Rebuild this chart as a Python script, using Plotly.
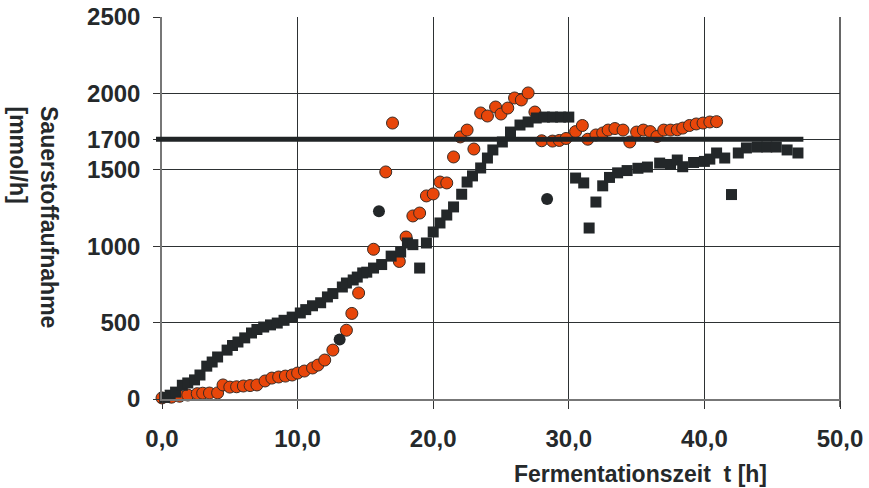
import plotly.graph_objects as go

# Fermentation time [h] and oxygen uptake [mmol/h], measured series (squares)
t_ref = [0.2, 0.6, 1.0, 1.5, 1.9, 2.4, 2.8, 3.3, 3.7, 4.1, 4.8, 5.2, 5.6, 6.1, 6.6,
         7.0, 7.5, 8.0, 8.5, 9.0, 9.6, 10.2, 10.6, 11.1, 11.7, 12.2, 12.6, 13.3, 13.6,
         14.1, 14.4, 14.8, 15.1, 15.6, 16.2, 16.9, 17.6, 18.1, 18.5, 19.0, 19.5, 20.0,
         20.5, 21.0, 21.5, 22.1, 22.5, 22.9, 23.5, 24.0, 24.4, 25.1, 25.7, 26.4, 27.0,
         27.6, 28.2, 28.8, 29.4, 30.0, 30.5, 31.1, 31.5, 32.0, 32.5, 33.0, 33.6, 34.3,
         35.1, 35.8, 36.7, 37.5, 38.0, 38.4, 39.2, 40.0, 40.4, 40.9, 41.5, 42.0, 42.5,
         43.1, 43.9, 44.6, 45.3, 46.1, 46.9]
our_ref = [10, 25, 45, 90, 105, 125, 157, 215, 242, 275, 320, 350, 373, 400, 432,
           455, 471, 485, 497, 515, 536, 563, 585, 610, 630, 668, 690, 733, 759,
           779, 798, 825, 830, 857, 880, 935, 962, 1021, 1010, 857, 1021, 1093,
           1152, 1204, 1257, 1340, 1420, 1460, 1512, 1577, 1630, 1682, 1747, 1793, 1813,
           1839, 1845, 1845, 1845, 1845, 1446, 1414, 1119, 1289, 1395, 1450, 1480, 1495,
           1510, 1518, 1544, 1535, 1564, 1520, 1548, 1555, 1570, 1610, 1577, 1338, 1610,
           1643, 1649, 1649, 1649, 1630, 1610]

# Second run (circles)
t_run = [0.0, 0.7, 1.3, 1.9, 2.6, 3.0, 3.5, 4.1, 4.5, 5.0, 5.5, 6.0, 6.5, 7.0, 7.6,
         8.1, 8.6, 9.1, 9.6, 10.0, 10.5, 11.1, 11.5, 12.0, 12.6, 13.6, 14.0, 14.5,
         15.6, 16.5, 17.0, 17.5, 18.0, 18.5, 19.0, 19.5, 20.0, 20.5, 21.0, 21.5, 22.0,
         22.5, 23.0, 23.5, 24.0, 24.6, 25.0, 25.5, 26.0, 26.5, 27.0, 27.5, 28.0, 28.8,
         29.3, 29.8, 30.5, 31.0, 31.4, 32.0, 32.5, 32.9, 33.4, 34.0, 34.5, 35.0, 35.5,
         36.0, 36.5, 37.0, 37.5, 38.0, 38.4, 38.9, 39.4, 39.9, 40.4, 40.9]
our_run = [7, 12, 18, 26, 35, 38, 39, 40, 92, 78, 80, 85, 88, 92, 118,
           137, 144, 150, 157, 170, 183, 203, 222, 255, 320, 450, 560, 694,
           980, 1486, 1806, 900, 1060, 1198, 1217, 1329, 1342, 1420, 1414, 1584, 1715,
           1760, 1636, 1872, 1852, 1911, 1865, 1904, 1970, 1957, 2003, 1878, 1690, 1688,
           1692, 1705, 1750, 1790, 1700, 1728, 1741, 1760, 1770, 1760, 1682, 1747, 1760,
           1750, 1718, 1760, 1760, 1762, 1773, 1790, 1800, 1806, 1813, 1815]

# Single dark round points
t_extra = [13.1, 16.0, 28.4]
our_extra = [390, 1228, 1309]

# Oxygen uptake limit
limit = 1700
limit_end = 47.3

x_ticks = [0, 10, 20, 30, 40, 50]
y_ticks = [0, 500, 1000, 1500, 1700, 2000, 2500]

DARK = "#232729"
ORANGE = "#e8460a"
TXT = "#25292b"
tick_font = dict(family="Liberation Sans, Arial, sans-serif", size=24, color=TXT, weight="bold")

fig = go.Figure()
fig.add_trace(go.Scatter(
    x=t_run, y=our_run, mode="markers", cliponaxis=False,
    marker=dict(symbol="circle", size=12, color=ORANGE, line=dict(color="#3a2a22", width=1)),
))
fig.add_trace(go.Scatter(
    x=t_ref, y=our_ref, mode="markers", cliponaxis=False,
    marker=dict(symbol="square", size=11, color=DARK, line=dict(width=0)),
))
fig.add_trace(go.Scatter(
    x=t_extra, y=our_extra, mode="markers", cliponaxis=False,
    marker=dict(symbol="circle", size=12, color=DARK, line=dict(width=0)),
))

W, H = 869, 488
L, R, T, B = 162, 29, 17, 89
pw, ph = W - L - R, H - T - B

# thick limit line, starting at the tick position left of the axis
fig.add_shape(type="line", xref="paper", yref="y",
              x0=-6 / pw, x1=limit_end / 50, y0=limit, y1=limit,
              line=dict(color="#202426", width=5), layer="above")
# right frame line with its tick below
fig.add_shape(type="line", xref="paper", yref="paper",
              x0=1, x1=1, y0=-8 / ph, y1=1,
              line=dict(color="#333", width=1.5), layer="below")

fig.update_layout(
    width=W, height=H,
    margin=dict(l=L, r=R, t=T, b=B, autoexpand=False),
    paper_bgcolor="white", plot_bgcolor="white",
    showlegend=False,
    separators=",.",
    xaxis=dict(range=[0, 50], tickvals=x_ticks, tickformat=".1f", automargin=False,
               showgrid=True, gridcolor="#2d3133", gridwidth=1,
               zeroline=False, showline=True, linecolor="#777", linewidth=1.5,
               ticks="outside", ticklen=8, tickcolor="#333", tickwidth=1,
               tickfont=tick_font, ticklabelstandoff=9),
    yaxis=dict(range=[0, 2500], tickvals=y_ticks, automargin=False,
               showgrid=True, gridcolor="#2d3133", gridwidth=1,
               zeroline=False, showline=True, linecolor="#777", linewidth=1.5,
               ticks="outside", ticklen=7, tickcolor="#333", tickwidth=1,
               tickfont=tick_font, ticklabelstandoff=8),
)

title_font = dict(family="Liberation Sans, Arial, sans-serif", size=23, color=TXT, weight="bold")
fig.add_annotation(text="Sauerstoffaufnahme", textangle=90, xref="paper", yref="paper",
                   x=(49 - L) / pw, y=(399 - 104) / ph, xanchor="center", yanchor="top",
                   showarrow=False, font=title_font)
fig.add_annotation(text="[mmol/h]", textangle=90, xref="paper", yref="paper",
                   x=(18 - L) / pw, y=(399 - 104) / ph, xanchor="center", yanchor="top",
                   showarrow=False, font=title_font)
fig.add_annotation(text="Fermentationszeit\u00a0 t [h]", xref="paper", yref="paper",
                   x=(640 - L) / pw, y=(399 - 474) / ph, xanchor="center", yanchor="middle",
                   showarrow=False, font=title_font)

fig.write_html("out.html")
